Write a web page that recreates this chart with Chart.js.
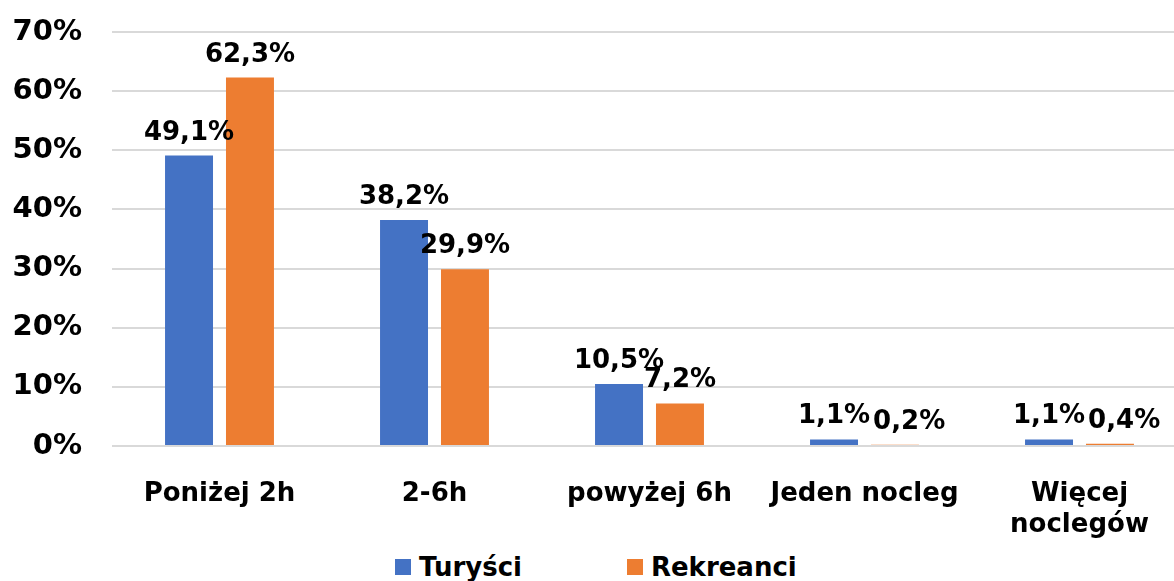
<!DOCTYPE html>
<html>
<head>
<meta charset="utf-8">
<script src="https://cdn.jsdelivr.net/npm/chart.js@4"></script>
<style>
  body { margin: 0; background: #fff; overflow: hidden; font-family: "DejaVu Sans", Verdana, sans-serif; }
  #wrap { position: relative; width: 1174px; height: 581px; overflow: hidden; }
  #legend { position: absolute; left: 395px; top: 554px; display: flex; gap: 105px; font-weight: bold; font-size: 26px; line-height: 26px; color: #000; }
  #legend .item { display: flex; align-items: center; }
  #legend .box { width: 16px; height: 16px; margin-right: 8px; }
</style>
</head>
<body>
<div id="wrap">
  <canvas id="chart" width="1187" height="540"></canvas>
  <div id="legend"></div>
</div>
<script>
let categories = ['Poniżej 2h', '2-6h', 'powyżej 6h', 'Jeden nocleg', ['Więcej', 'noclegów']];
let turysci = [49.1, 38.2, 10.5, 1.1, 1.1];
let rekreanci = [62.3, 29.9, 7.2, 0.2, 0.4];
let seriesNames = ['Turyści', 'Rekreanci'];
let seriesColors = ['#4472C4', '#ED7D31'];

Chart.defaults.font.family = '"DejaVu Sans", Verdana, sans-serif';
Chart.defaults.color = '#000';

function fmt(v){
  return v.toFixed(1).replace('.', ',') + '%';
}

// value labels above bars, shifted right when they would collide
let valueLabels = {
  id: 'valueLabels',
  afterDatasetsDraw(chart){
    let ctx = chart.ctx;
    ctx.save();
    ctx.font = 'bold 26px "DejaVu Sans", Verdana, sans-serif';
    ctx.fillStyle = '#000';
    ctx.textAlign = 'left';
    ctx.textBaseline = 'alphabetic';
    let capH = 19;
    categories.forEach((c, i) => {
      let prev = null;
      chart.data.datasets.forEach((ds, d) => {
        let bar = chart.getDatasetMeta(d).data[i];
        let text = fmt(ds.data[i]);
        let w = ctx.measureText(text).width;
        let x = bar.x - w / 2;
        let y = bar.y - 16;
        if(prev && x < prev.right && y > prev.y - capH && y - capH < prev.y){
          x = prev.right + 3;
        }
        ctx.fillText(text, x, y);
        prev = {right: x + w, y: y};
      });
    });
    ctx.restore();
  }
};

let ctx = document.getElementById('chart').getContext('2d');
let chart = new Chart(ctx, {
  type: 'bar',
  data: {
    labels: categories,
    datasets: [
      { label: seriesNames[0], data: turysci, backgroundColor: seriesColors[0] },
      { label: seriesNames[1], data: rekreanci, backgroundColor: seriesColors[1] }
    ]
  },
  options: {
    responsive: false,
    animation: false,
    categoryPercentage: 0.567,
    barPercentage: 0.787,
    layout: { padding: { top: 32, left: 0, right: 0, bottom: 0 } },
    plugins: {
      legend: { display: false },
      tooltip: { enabled: false }
    },
    scales: {
      x: {
        grid: { display: false },
        border: { display: false },
        ticks: {
          padding: 24,
          maxRotation: 0,
          autoSkip: false,
          font: { size: 26, weight: 'bold', lineHeight: 1.22 }
        },
        afterFit(scale){ scale.height = 94; }
      },
      y: {
        min: 0,
        max: 70,
        grid: { color: '#d9d9d9', lineWidth: 2, drawTicks: false },
        border: { display: false },
        ticks: {
          stepSize: 10,
          padding: 30,
          font: { size: 29, weight: 'bold' },
          callback: v => v + '%'
        },
        afterFit(scale){
          scale.width = 112;
          scale.paddingTop = 0;
          scale.paddingBottom = 0;
        }
      }
    }
  },
  plugins: [valueLabels]
});

// legend
let legendEl = document.getElementById('legend');
seriesNames.forEach((name, i) => {
  let item = document.createElement('div');
  item.className = 'item';
  let box = document.createElement('span');
  box.className = 'box';
  box.style.background = seriesColors[i];
  let txt = document.createElement('span');
  txt.textContent = name;
  item.appendChild(box);
  item.appendChild(txt);
  legendEl.appendChild(item);
});
</script>
</body>
</html>
